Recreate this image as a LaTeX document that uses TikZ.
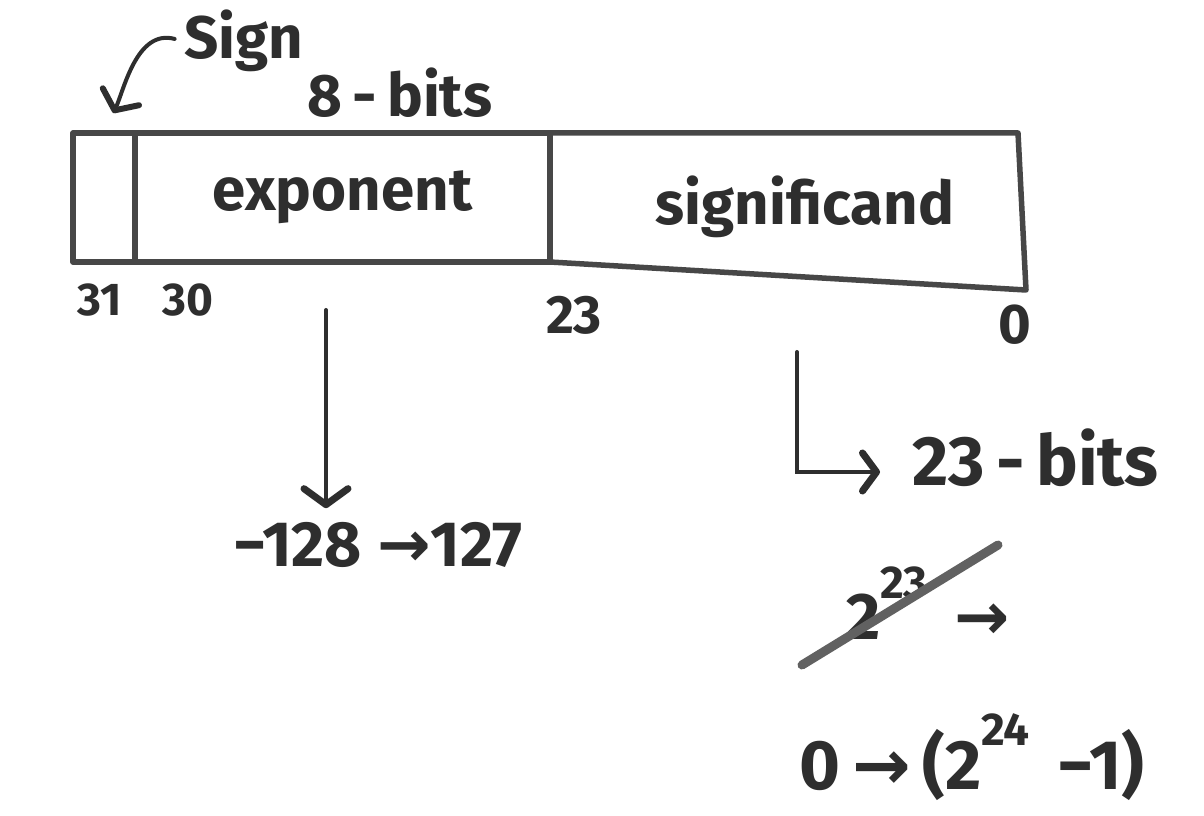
\documentclass[tikz,border=0pt]{standalone}
\usepackage{fontspec}
\setmainfont{Fira Sans}
\newfontfamily\arrowfont{DejaVu Sans}
\newcommand{\toarrow}{{\arrowfont\bfseries →}}
\newcommand{\supnum}[1]{\raisebox{0.62em}{\fontsize{46}{46}\selectfont #1}}
\usepackage{tikz}
\usetikzlibrary{positioning, arrows.meta, calc}

\begin{document}
\begin{tikzpicture}[
        x=1pt, y=1pt,
        node distance = 10pt and 20pt,
        ink/.style = {draw=black!72, line width=5.5pt, line cap=round, line join=round},
        cell/.style = {ink, minimum height=129pt, inner sep=0pt, outer sep=0pt},
        hand/.style = {text=black!82, inner sep=2pt, font=\bfseries\fontsize{60}{66}\selectfont},
        bitno/.style = {text=black!82, inner sep=2pt, font=\bfseries\fontsize{46}{50}\selectfont},
        arrow/.style = {draw=black!82, line width=4pt, line cap=round,
            -{Straight Barb[length=16pt, width=44pt, line width=7pt, round]}},
        strike/.style = {draw=black!62, line width=9pt, line cap=round},
    ]
        \useasboundingbox[fill=white] (0,0) rectangle (1204,815);
        % the 32-bit word
        \node[cell, minimum width=62pt] (signcell) at (104,617.5) {};
        \node[cell, minimum width=415pt, right=0pt of signcell, hand] (expcell) {exponent};
        \draw[ink] (expcell.north east) -- (1018,682) -- (1026,525) -- (expcell.south east);
        \node[hand] (sigtext) at (805,608) {significand};
        % labels above
        \node[hand, font=\bfseries\fontsize{60}{64}\selectfont] (signlbl) at (244,774) {Sign};
        \node[hand, font=\bfseries\fontsize{60}{64}\selectfont] (explbl) at (400,722) {8\,-\,bits};
        \draw[arrow, -{Straight Barb[length=15pt, width=40pt, line width=6pt, round]},
            shorten <=8pt, shorten >=22pt] (signlbl.west) to[out=165, in=65] (signcell.north);
        % bit numbers
        \node[bitno] (b31) at (100,515) {31};
        \node[bitno, right=36pt of b31] (b30) {30};
        \node[bitno, font=\bfseries\fontsize{54}{58}\selectfont] (b23) at (574,500) {23};
        \node[bitno, font=\bfseries\fontsize{56}{60}\selectfont] (b0) at (1015,490) {0};
        % exponent range
        \node[hand, font=\bfseries\fontsize{64}{70}\selectfont] (range) at (378,270) {−128 \toarrow 127};
        \coordinate (expdrop) at (326,505);
        \draw[arrow, shorten >=12pt] (expdrop) -- (expdrop |- range.north);
        % significand width and range
        \node[hand, font=\bfseries\fontsize{70}{76}\selectfont, anchor=west] (bits) at (910,357) {23\,-\,bits};
        \coordinate (sigdrop) at (797,463);
        \draw[arrow, -{Straight Barb[length=14pt, width=38pt, line width=7pt, round]},
            shorten >=30pt] (sigdrop) |- ([yshift=-14pt]bits.west);
        \node[hand, font=\bfseries\fontsize{66}{70}\selectfont] (crossed) at (928,212) {2\supnum{23}\, \toarrow};
        \coordinate (strikefrom) at (802,150);
        \coordinate (striketo) at (998,270);
        \draw[strike] (strikefrom) -- (striketo);
        \node[hand, font=\bfseries\fontsize{70}{76}\selectfont] (fullrange) at (972,58) {0\,\toarrow\,(2\supnum{24}\, −1)};
    \end{tikzpicture}
\end{document}
